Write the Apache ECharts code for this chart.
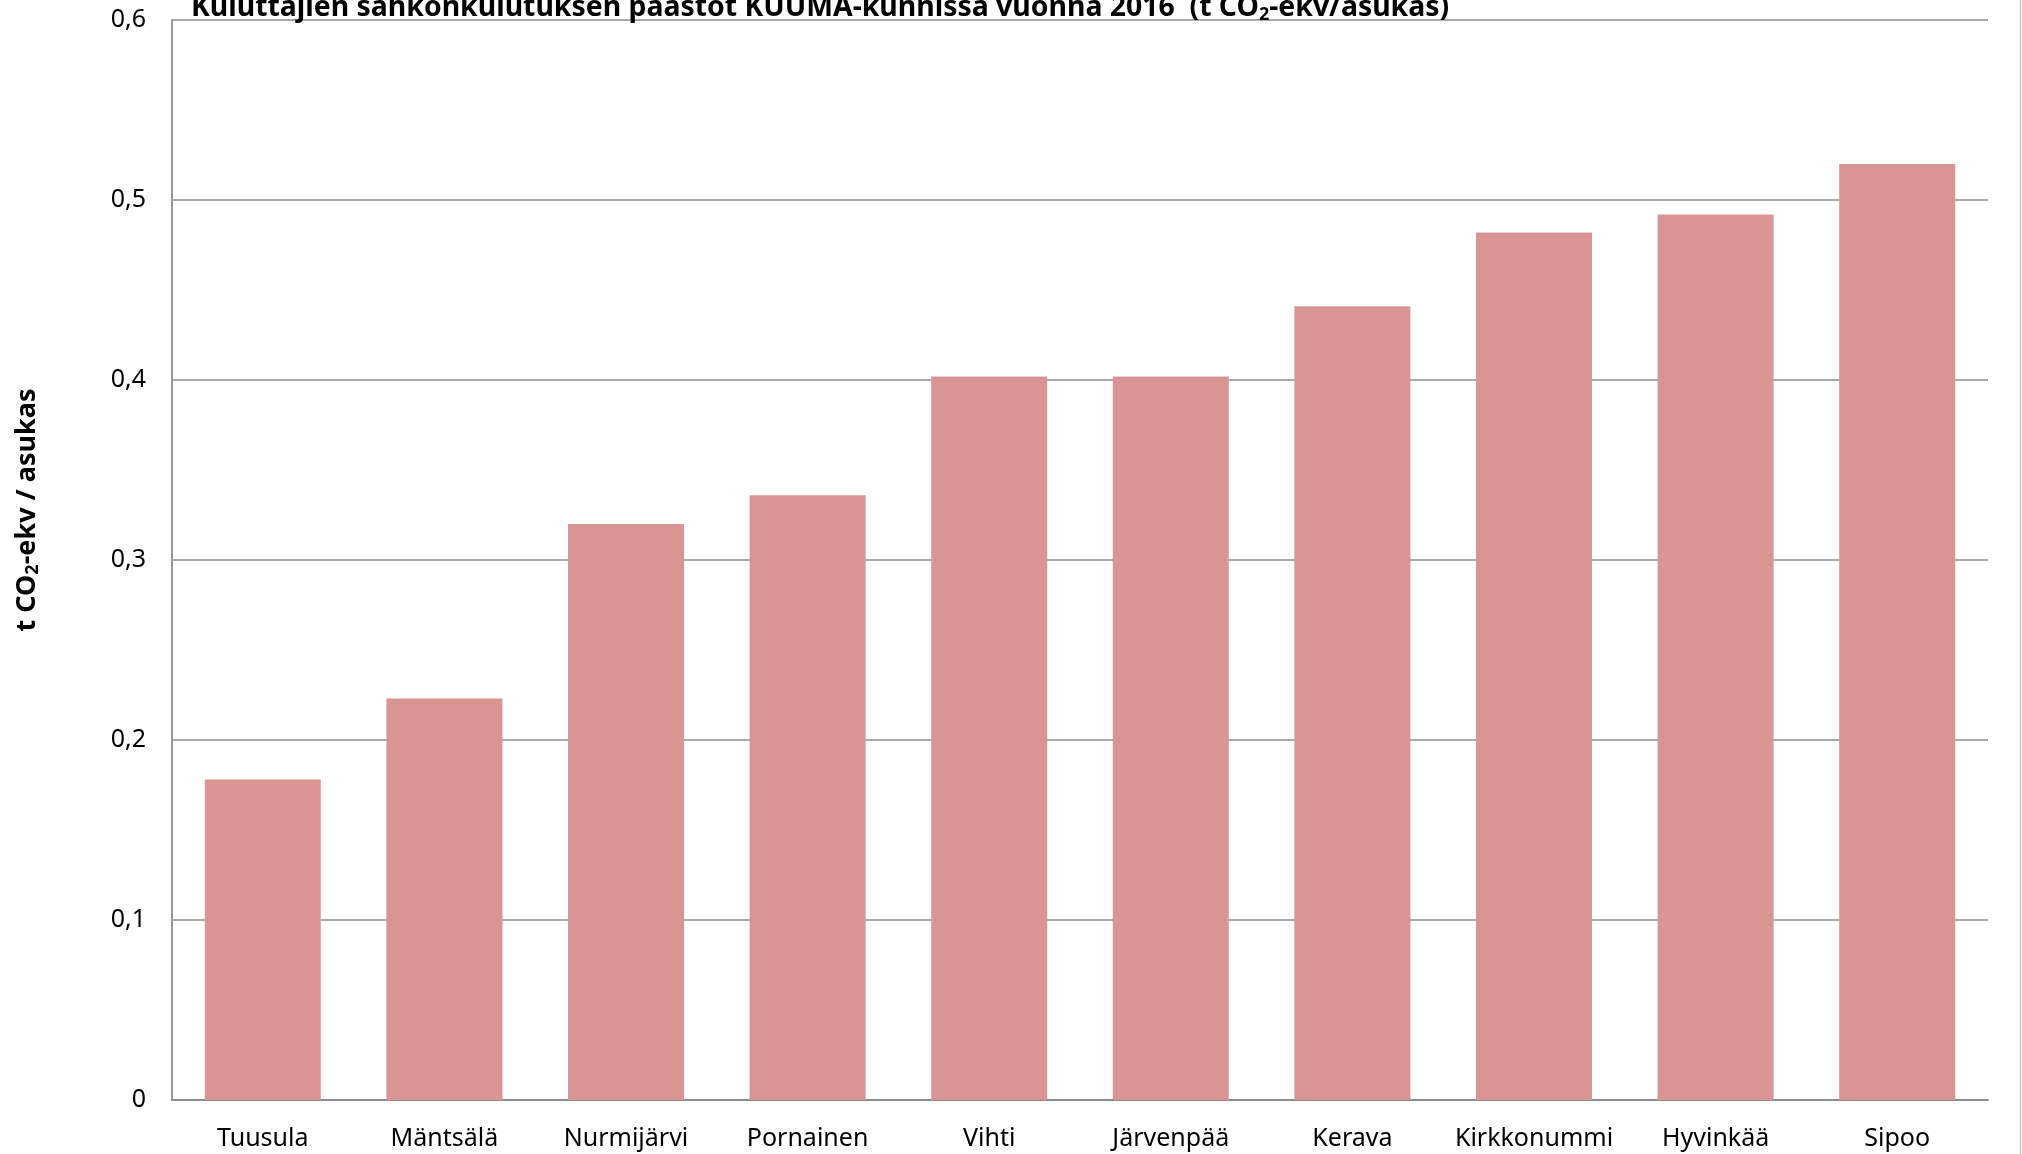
<!DOCTYPE html>
<html>
<head>
<meta charset="utf-8">
<script src="https://cdn.jsdelivr.net/npm/echarts@6/dist/echarts.min.js"></script>
<style>
html,body{margin:0;padding:0;background:#fff;}
#c{width:2022px;height:1154px;}
</style>
</head>
<body>
<div id="c"></div>
<script>
var categories = ['Tuusula','Mäntsälä','Nurmijärvi','Pornainen','Vihti','Järvenpää','Kerava','Kirkkonummi','Hyvinkää','Sipoo'];
var values = [0.178, 0.223, 0.320, 0.336, 0.402, 0.402, 0.441, 0.482, 0.492, 0.520];
var yTicks = [0, 0.1, 0.2, 0.3, 0.4, 0.5, 0.6];

var FONT = '"Noto Sans", "DejaVu Sans", sans-serif';
var chart = echarts.init(document.getElementById('c'));
chart.setOption({
  animation: false,
  backgroundColor: '#ffffff',
  title: {
    text: 'Kuluttajien sähkönkulutuksen päästöt KUUMA-kunnissa vuonna 2016  (t CO{sub|2}-ekv/asukas)',
    left: 186,
    top: -12.5,
    textStyle: {
      fontFamily: FONT, fontSize: 28.4, fontWeight: 'bold', color: '#000',
      rich: { sub: { fontFamily: FONT, fontSize: 18, fontWeight: 'bold', color: '#000', verticalAlign: 'bottom', padding: [13, 0, 0, 0] } }
    }
  },
  grid: { left: 172, right: 34, top: 20, bottom: 54, containLabel: false },
  xAxis: {
    type: 'category',
    data: categories,
    axisLine: { show: true, lineStyle: { color: '#8c8c8c', width: 2 } },
    axisTick: { show: false },
    axisLabel: { interval: 0, fontFamily: FONT, fontSize: 25, color: '#000', margin: 26 },
    splitLine: { show: false }
  },
  yAxis: {
    type: 'value',
    min: yTicks[0], max: yTicks[yTicks.length - 1], interval: 0.1,
    axisLine: { show: true, lineStyle: { color: '#9a9a9a', width: 2 } },
    axisTick: { show: false },
    axisLabel: {
      fontFamily: FONT, fontSize: 25, color: '#000', margin: 26,
      formatter: function (v) { return (Math.round(v * 10) / 10).toString().replace('.', ','); }
    },
    splitLine: { show: true, lineStyle: { color: '#8c8c8c', width: 1.5 } }
  },
  series: [{
    type: 'bar',
    data: values,
    barWidth: 116,
    itemStyle: { color: '#D99594' }
  }],
  graphic: [
    {
      type: 'text',
      x: 27, y: 510,
      rotation: Math.PI / 2,
      style: {
        text: 't CO{sub|2}-ekv / asukas',
        fontFamily: FONT, fontSize: 27, fontWeight: 'bold', fill: '#000',
        align: 'center', verticalAlign: 'middle',
        rich: { sub: { fontFamily: FONT, fontSize: 18, fontWeight: 'bold', fill: '#000', verticalAlign: 'bottom', padding: [12, 0, 0, 0] } }
      }
    },
    {
      type: 'line',
      shape: { x1: 2020.5, y1: 0, x2: 2020.5, y2: 1154 },
      style: { stroke: '#c8c8c8', lineWidth: 1.5 }
    }
  ]
});
</script>
</body>
</html>
